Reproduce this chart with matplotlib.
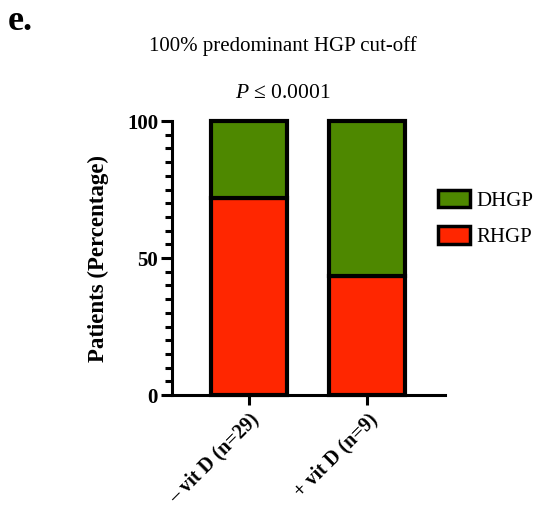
import matplotlib.pyplot as plt
from matplotlib.patches import Patch

plt.rcParams['font.family'] = ['Liberation Serif', 'DejaVu Serif']
plt.rcParams['mathtext.fontset'] = 'custom'
plt.rcParams['mathtext.it'] = 'Liberation Serif:italic'
plt.rcParams['mathtext.rm'] = 'Liberation Serif'

groups = ['\u2013 vit D (n=29)', '+ vit D (n=9)']
rhgp = [72.0, 43.5]
dhgp = [28.0, 56.5]
series_names = ['DHGP', 'RHGP']
green = '#4e8800'
red = '#ff2600'

fig = plt.figure(figsize=[5.39, 5.11], dpi=100)
ax = fig.add_axes([0.319, 0.227, 0.507, 0.536])

x = list(range(len(groups)))
ax.bar(x, rhgp, width=0.64, color=red, edgecolor='black', linewidth=3, clip_on=False, zorder=3)
ax.bar(x, dhgp, width=0.64, bottom=rhgp, color=green, edgecolor='black', linewidth=3, clip_on=False, zorder=3)

ax.set_xlim(-0.65, 1.66)
ax.set_ylim(0, 100)
ax.spines['top'].set_visible(False)
ax.spines['right'].set_visible(False)
ax.spines['left'].set_linewidth(2.2)
ax.spines['bottom'].set_linewidth(2.2)

ax.set_yticks([0, 50, 100])
ax.set_yticks(range(0, 101, 5), minor=True)
ax.tick_params(axis='y', which='major', length=8, width=2.2, labelsize=15, pad=2)
ax.tick_params(axis='y', which='minor', length=5, width=2.2)
ax.tick_params(axis='x', length=7, width=2.2, labelsize=14.5)
for lab in ax.get_yticklabels():
    lab.set_fontweight('bold')

ax.set_xticks(x)
ax.set_xticklabels(groups, rotation=45, ha='right', rotation_mode='anchor', fontweight='bold')
ax.set_ylabel('Patients (Percentage)', fontsize=16.5, fontweight='bold', labelpad=13)

fig.text(0.525, 0.91, '100% predominant HGP cut-off', ha='center', va='center', fontsize=15)
fig.text(0.525, 0.818, '$P$ \u2264 0.0001', ha='center', va='center', fontsize=15.5)
fig.text(0.015, 0.958, 'e.', ha='left', va='center', fontsize=26, fontweight='bold')

handles = [Patch(facecolor=green, edgecolor='black', linewidth=2.5),
           Patch(facecolor=red, edgecolor='black', linewidth=2.5)]
fig.legend(handles, series_names, loc='upper left', bbox_to_anchor=(0.777, 0.665),
           frameon=False, fontsize=15, handlelength=1.55, handleheight=0.9,
           labelspacing=0.75, handletextpad=0.3)

fig.savefig('out.png', dpi=100)
